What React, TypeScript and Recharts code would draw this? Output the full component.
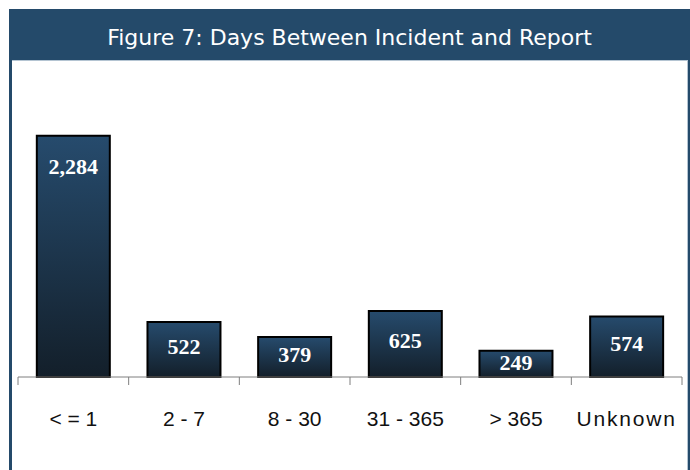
import { BarChart, Bar, XAxis, YAxis, LabelList } from 'recharts';

const categories = ['< = 1', '2 - 7', '8 - 30', '31 - 365', '> 365', 'Unknown'];
const reports = [2284, 522, 379, 625, 249, 574];
const yDomain = [0, 2500];

const data = categories.map((name, i) => ({ name, value: reports[i] }));

const WIDTH = 690;
const HEIGHT = 470;
const MARGIN = { top: 113, right: 8, bottom: 33, left: 18 };
const FRAME = '#244a6a';

function BarLabel(props: any) {
  const { x, y, width, height, value } = props;
  const cy = y + Math.min(height * 0.45, 31);
  return (
    <text
      x={x + width / 2}
      y={cy}
      textAnchor="middle"
      dominantBaseline="central"
      fill="#ffffff"
      style={{ fontFamily: '"Liberation Serif", serif', fontWeight: 700, fontSize: 22 }}
    >
      {Number(value).toLocaleString('en-US')}
    </text>
  );
}

function CategoryTick(props: any) {
  const { x, y, payload, index } = props;
  const band = (WIDTH - MARGIN.left - MARGIN.right) / categories.length;
  const half = payload?.offset || band / 2;
  const last = index === categories.length - 1;
  return (
    <g>
      <line x1={x - half} y1={y} x2={x - half} y2={y + 8} stroke="#7f7f7f" strokeWidth={1} />
      {last && (
        <line x1={x + half} y1={y} x2={x + half} y2={y + 8} stroke="#7f7f7f" strokeWidth={1} />
      )}
      <text
        x={x}
        y={y + 41}
        textAnchor="middle"
        dominantBaseline="central"
        fill="#111111"
        style={{
          fontFamily: '"Liberation Sans", Arial, sans-serif',
          fontSize: 21,
          letterSpacing: payload.value === 'Unknown' ? 1.8 : 0,
        }}
      >
        {payload.value}
      </text>
    </g>
  );
}

export default function App() {
  return (
    <div
      style={{
        position: 'absolute',
        left: 0,
        top: 0,
        width: WIDTH,
        height: HEIGHT,
        background: '#ffffff',
        overflow: 'hidden',
      }}
    >
      {/* header band */}
      <div
        style={{
          position: 'absolute',
          left: 9,
          top: 9,
          width: WIDTH - 9,
          height: 51,
          background: FRAME,
          color: '#ffffff',
          display: 'flex',
          alignItems: 'center',
          justifyContent: 'center',
          fontFamily: '"DejaVu Sans", Verdana, sans-serif',
          fontSize: 22,
          paddingTop: 5,
          boxSizing: 'border-box',
        }}
      >
        Figure 7: Days Between Incident and Report
      </div>
      {/* side borders */}
      <div style={{ position: 'absolute', left: 9, top: 60, width: 3, height: HEIGHT - 60, background: FRAME }} />
      <div style={{ position: 'absolute', left: 688, top: 60, width: 2, height: HEIGHT - 60, background: FRAME }} />
      <div style={{ position: 'absolute', left: 12, top: 60, width: 676, height: 1, background: '#b4c4d2' }} />
      <div style={{ position: 'absolute', left: 687, top: 61, width: 1, height: HEIGHT - 61, background: '#b4c4d2' }} />

      <div style={{ position: 'absolute', left: 0, top: 0 }}>
        <BarChart width={WIDTH} height={HEIGHT} data={data} margin={MARGIN} barCategoryGap="17%">
          <defs>
            <linearGradient id="barFill" x1="0" y1="0" x2="0" y2="1">
              <stop offset="0%" stopColor="#264b6d" />
              <stop offset="100%" stopColor="#131f2a" />
            </linearGradient>
          </defs>
          <XAxis
            dataKey="name"
            height={60}
            axisLine={{ stroke: '#7f7f7f', strokeWidth: 1 }}
            tickLine={false}
            tickSize={0}
            tickMargin={0}
            interval={0}
            tick={<CategoryTick />}
          />
          <YAxis hide domain={yDomain} />
          <Bar dataKey="value" fill="url(#barFill)" stroke="#000000" strokeWidth={2} isAnimationActive={false}>
            <LabelList dataKey="value" content={<BarLabel />} />
          </Bar>
        </BarChart>
      </div>
    </div>
  );
}
